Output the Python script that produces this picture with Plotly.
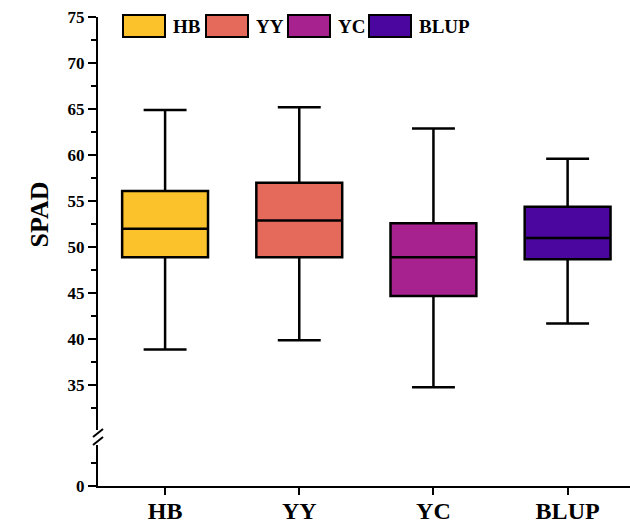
import plotly.graph_objects as go

categories = ["HB", "YY", "YC", "BLUP"]
lower_whisker = [38.9, 39.9, 34.8, 41.7]
q1_vals = [48.9, 48.9, 44.7, 48.7]
median_vals = [52.0, 52.9, 48.9, 51.0]
q3_vals = [56.1, 57.0, 52.6, 54.4]
upper_whisker = [64.9, 65.2, 62.9, 59.6]
colors = ["#FCC22B", "#E56A5C", "#A8228F", "#4A069F"]
upper_ticks = [35, 40, 45, 50, 55, 60, 65, 70, 75]
lower_ticks = [0]

FONT = "Liberation Serif, Times New Roman, serif"
W, H = 630, 526
L, R, T, B = 98, 0, 17, 40
PW, PH = W - L - R, H - T - B


def px_x(p):
    return (p - L) / PW


def px_y(p):
    return (H - B - p) / PH


fig = go.Figure()
# invisible trace so the lower (0) segment of the broken axis exists
fig.add_trace(go.Scatter(x=categories, y=[None] * len(categories), mode="markers",
                         xaxis="x", yaxis="y", showlegend=False, hoverinfo="skip"))
for i, c in enumerate(categories):
    fig.add_trace(go.Box(
        x=[c], q1=[q1_vals[i]], median=[median_vals[i]], q3=[q3_vals[i]],
        lowerfence=[lower_whisker[i]], upperfence=[upper_whisker[i]],
        name=c, fillcolor=colors[i], line=dict(color="black", width=2.5),
        whiskerwidth=0.5, width=0.64, boxpoints=False,
        xaxis="x", yaxis="y2", showlegend=False, hoverinfo="skip",
    ))

upper_bottom_px = 430
lower_top_px = 445
scale = (385 - 16.7) / 40.0  # px per unit

fig.update_layout(
    width=W, height=H,
    margin=dict(l=L, r=R, t=T, b=B, autoexpand=False),
    paper_bgcolor="white", plot_bgcolor="white",
    boxmode="overlay",
    xaxis=dict(
        anchor="y", domain=[0, 1], type="category", automargin=False,
        categoryorder="array", categoryarray=categories,
        range=[-0.5, 3.465], showline=True, linecolor="black", linewidth=2,
        ticks="outside", ticklen=7, tickwidth=2, tickcolor="black",
        ticklabelstandoff=-5,
        tickfont=dict(family=FONT, size=24, color="black", weight="bold"),
        showgrid=False, zeroline=False,
    ),
    yaxis=dict(
        domain=[0, px_y(lower_top_px)], automargin=False,
        range=[0, (H - B - lower_top_px) / scale],
        tickvals=lower_ticks, showline=True, linecolor="black", linewidth=2,
        ticks="outside", ticklen=8, tickwidth=2, tickcolor="black",
        minor=dict(dtick=2.5, tick0=0, ticks="outside", ticklen=5, tickwidth=2, tickcolor="black"),
        tickfont=dict(family=FONT, size=17, color="black", weight="bold"),
        showgrid=False, zeroline=False, anchor="x",
    ),
    yaxis2=dict(
        domain=[px_y(upper_bottom_px), 1], automargin=False,
        range=[75 - (upper_bottom_px - T) / scale, 75],
        tickvals=upper_ticks, showline=True, linecolor="black", linewidth=2,
        ticks="outside", ticklen=8, tickwidth=2, tickcolor="black",
        minor=dict(dtick=2.5, tick0=0, ticks="outside", ticklen=5, tickwidth=2, tickcolor="black"),
        tickfont=dict(family=FONT, size=17, color="black", weight="bold"),
        showgrid=False, zeroline=False, anchor="x",
    ),
)

# y-axis title
fig.add_annotation(
    text="<b>SPAD</b>", xref="paper", yref="paper",
    x=px_x(22), y=px_y(215), showarrow=False, textangle=-90,
    font=dict(family=FONT, size=26, color="black"),
)

# axis break marks
for dy in (0, 8):
    fig.add_shape(type="line", xref="paper", yref="paper",
                  x0=px_x(93), y0=px_y(437 + dy), x1=px_x(103), y1=px_y(429 + dy),
                  line=dict(color="black", width=2))

# custom legend
legend_x = [123, 206, 288, 369]
sw_w, sw_top, sw_bot = 42, 15, 37
for i, c in enumerate(categories):
    x0 = legend_x[i]
    fig.add_shape(type="rect", xref="paper", yref="paper",
                  x0=px_x(x0), x1=px_x(x0 + sw_w), y0=px_y(sw_bot), y1=px_y(sw_top),
                  fillcolor=colors[i], line=dict(color="black", width=2))
    fig.add_annotation(text="<b>%s</b>" % c, xref="paper", yref="paper",
                       x=px_x(x0 + sw_w + 6), y=px_y((sw_top + sw_bot) / 2),
                       xanchor="left", yanchor="middle", showarrow=False,
                       font=dict(family=FONT, size=19, color="black"))

fig.write_html("out.html")
